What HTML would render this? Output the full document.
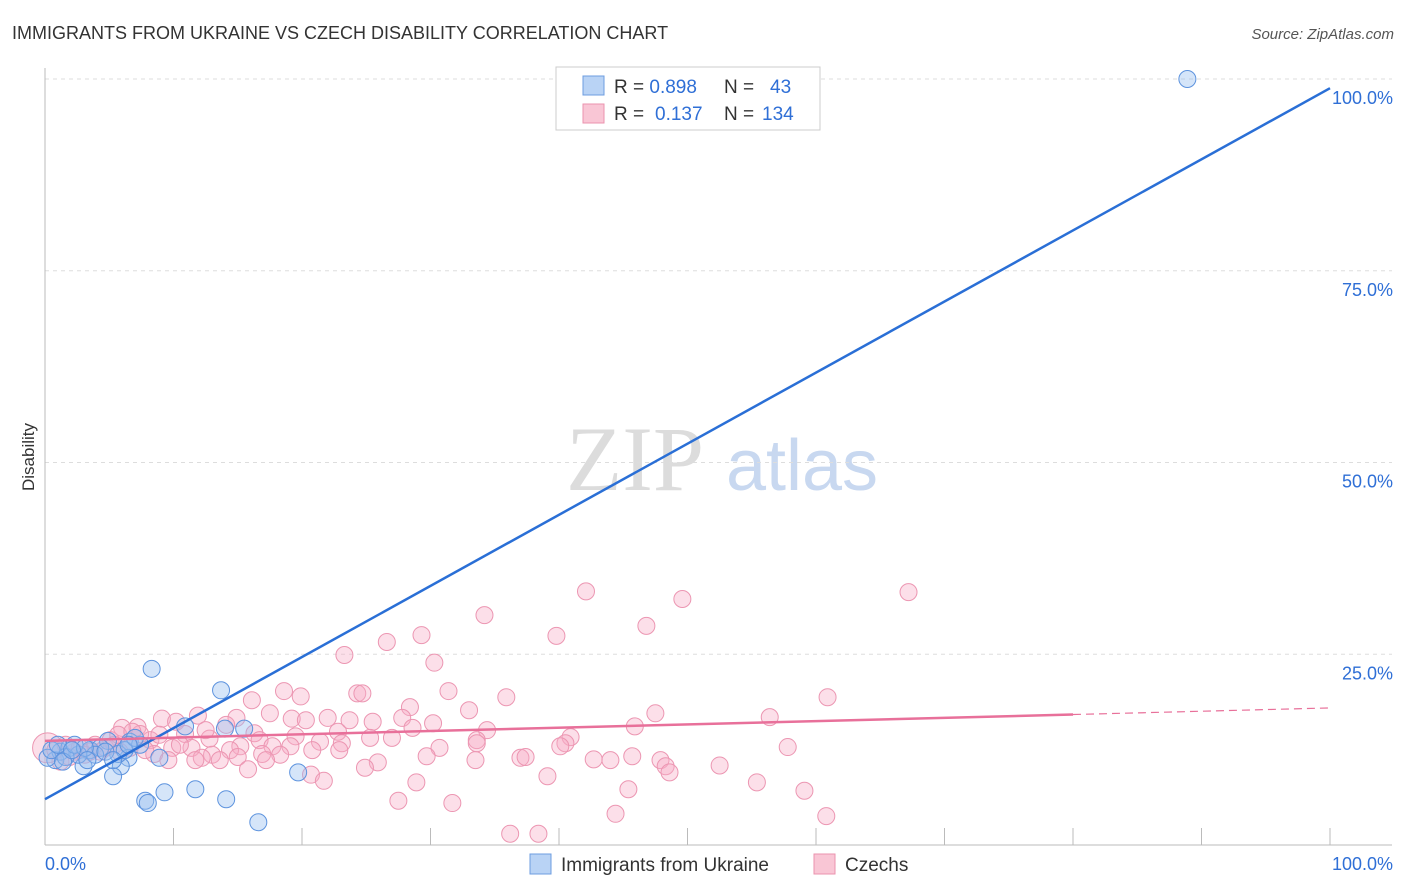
<!DOCTYPE html>
<html><head><meta charset="utf-8"><style>
body{margin:0;background:#fff;font-family:"Liberation Sans",sans-serif}
svg{display:block}
</style></head><body>
<svg id="c" width="1406" height="892">
<text x="12" y="39" font-size="18" fill="#333">IMMIGRANTS FROM UKRAINE VS CZECH DISABILITY CORRELATION CHART</text>
<text x="1394" y="39" font-size="15" fill="#555" font-style="italic" text-anchor="end">Source: ZipAtlas.com</text>
<text x="34" y="457" font-size="17" fill="#333" transform="rotate(-90 34 457)" text-anchor="middle">Disability</text>
<g>
<text x="635" y="490" font-size="92" fill="#dcdcdc" font-family="Liberation Serif,serif" text-anchor="middle">ZIP</text>
<text x="802" y="490" font-size="72" fill="#c8d8f0" text-anchor="middle">atlas</text>
</g>
<g id="grid"></g><g id="marks"></g>
<g>
<rect x="556" y="67" width="264" height="63" fill="#fff" stroke="#ccc"/>
<rect x="583" y="76" width="21" height="19" fill="#b9d3f5" stroke="#6d9de0"/>
<rect x="583" y="104" width="21" height="19" fill="#f9c6d5" stroke="#eb93ae"/>
<text x="614" y="93" font-size="19" fill="#333">R = <tspan fill="#2f6fd6">0.898</tspan><tspan x="724">N = </tspan><tspan x="770" fill="#2f6fd6">43</tspan></text>
<text x="614" y="120" font-size="19" fill="#333">R = <tspan fill="#2f6fd6" x="655">0.137</tspan><tspan x="724">N = </tspan><tspan x="762" fill="#2f6fd6">134</tspan></text>
</g>
<g>
<rect x="530" y="854" width="21" height="20" fill="#b9d3f5" stroke="#6d9de0"/>
<text x="561" y="871" font-size="19" fill="#333">Immigrants from Ukraine</text>
<rect x="814" y="854" width="21" height="20" fill="#f9c6d5" stroke="#eb93ae"/>
<text x="845" y="871" font-size="19" fill="#333">Czechs</text>
</g>
</svg>
<script>
const yTicks=[25,50,75,100];
const yTickLabels=["25.0%","50.0%","75.0%","100.0%"];
const xTickLabels=["0.0%","100.0%"];
const ukraineX=[88.9,8.3,13.7,10.9,15.5,14.0,6.6,4.9,8.9,6.5,5.9,5.3,3.0,0.8,1.2,1.9,3.5,4.3,2.6,0.2,1.6,3.9,5.7,6.2,7.4,7.0,19.7,9.3,7.8,8.0,11.7,14.1,16.6,0.5,1.0,2.3,3.1,4.7,5.3,3.3,1.4,2.1,6.5];
const ukraineY=[100,23.1,20.3,15.6,15.3,15.3,13.6,13.7,11.5,11.5,10.4,9.1,10.4,11.2,12.3,12.8,12.5,12.8,11.9,11.5,11.6,11.9,12.0,12.5,13.2,14.1,9.6,7.0,5.9,5.6,7.4,6.1,3.1,12.5,13.2,13.2,12.8,12.3,11.2,11.2,11.0,12.5,13.2];
const czechX=[42.1,67.2,49.6,34.2,46.8,39.8,29.3,26.6,23.3,30.3,31.4,24.3,24.7,19.9,18.6,35.9,60.9,16.1,28.4,33.0,47.5,17.5,22.0,9.1,11.9,27.8,19.2,20.3,23.7,14.9,56.4,10.2,25.5,30.2,45.9,6.0,7.2,14.1,16.3,28.6,34.4,10.9,22.8,19.5,25.3,27.0,40.9,33.6,5.1,8.2,12.8,16.7,21.4,23.1,33.6,40.5,15.2,17.7,19.1,40.1,57.8,6.6,9.9,11.4,14.4,20.8,30.7,2.3,4.3,8.5,13.0,16.9,18.3,29.7,45.7,37.0,37.4,42.7,44.0,33.5,47.9,9.6,12.2,13.6,15.0,17.2,1.2,25.9,52.5,15.8,24.9,48.3,48.6,20.7,39.1,21.7,28.9,55.4,45.4,59.1,27.5,31.7,44.4,60.8,36.2,38.4,0.2,0.8,1.6,2.7,3.5,3.9,4.7,5.4,5.8,3.1,1.9,7.4,7.8,8.9,5.7,6.8,10.5,11.7,12.5,22.9];
const czechY=[33.2,33.1,32.2,30.1,28.7,27.4,27.5,26.6,24.9,23.9,20.2,19.9,19.9,19.5,20.2,19.4,19.4,19.0,18.1,17.7,17.3,17.3,16.7,16.6,17.0,16.7,16.6,16.4,16.4,16.7,16.8,16.2,16.2,16.0,15.6,15.4,15.5,15.8,14.7,15.4,15.1,14.6,14.9,14.3,14.1,14.1,14.2,13.8,13.8,13.8,14.0,13.8,13.6,13.4,13.4,13.4,13.0,13.0,13.0,13.0,12.9,12.8,12.8,12.8,12.5,12.5,12.8,12.3,12.3,12.0,11.9,12.0,11.9,11.7,11.7,11.5,11.6,11.3,11.2,11.2,11.2,11.2,11.5,11.2,11.6,11.2,11.0,10.9,10.5,10.0,10.2,10.4,9.6,9.3,9.1,8.5,8.3,8.3,7.4,7.2,5.9,5.6,4.2,3.9,1.6,1.6,12.8,12.5,13.2,12.8,12.3,13.2,12.8,13.2,12.3,11.9,11.6,14.6,12.5,14.5,14.5,14.9,13.2,11.2,15.1,12.5];
const ukraineTrend=[6.1,98.8];
const czechTrend=[13.7,18.0];
const NS="http://www.w3.org/2000/svg";
const X=v=>45+v*12.85, Y=v=>846-v*7.67;
function mk(t,a,p){const e=document.createElementNS(NS,t);for(const k in a)e.setAttribute(k,a[k]);p.appendChild(e);return e;}
const g=document.getElementById('grid'), m=document.getElementById('marks');
yTicks.forEach((t,i)=>{
 const l=mk('line',{x1:45,x2:1392,y1:Y(t),y2:Y(t),stroke:'#ddd','stroke-dasharray':'4,4'},g);
 
 
 const tx=mk('text',{x:1393,y:Y(t)+25,'font-size':18,fill:'#2f6fd6','text-anchor':'end'},g);tx.textContent=yTickLabels[i];
 
 
});
mk('line',{x1:45,x2:45,y1:68,y2:845,stroke:'#bbb'},g);
mk('line',{x1:45,x2:1392,y1:845,y2:845,stroke:'#bbb'},g);
for(let i=1;i<=10;i++){mk('line',{x1:X(i*10),x2:X(i*10),y1:828,y2:845,stroke:'#bbb'},g);}
[[45,'start'],[1393,'end']].forEach((p,i)=>{const t=mk('text',{x:p[0],y:870,'font-size':18,fill:'#2f6fd6','text-anchor':p[1]},g);t.textContent=xTickLabels[i];
 
 });
czechX.forEach((x,i)=>{const c=mk('circle',{cx:X(x),cy:Y(czechY[i]),r:i==106?15:8.5,fill:'rgba(246,170,196,0.38)',stroke:'#ec96b2','stroke-width':1},m);
 
 });
ukraineX.forEach((x,i)=>{const c=mk('circle',{cx:X(x),cy:Y(ukraineY[i]),r:8.5,fill:'rgba(150,190,240,0.4)',stroke:'#5d93de','stroke-width':1},m);
 
 });
const bl=mk('line',{x1:X(0),y1:Y(ukraineTrend[0]),x2:X(100),y2:Y(ukraineTrend[1]),stroke:'#2a6fd6','stroke-width':2.5},m);


const cm=czechTrend[0]+(czechTrend[1]-czechTrend[0])*0.8;
const pl=mk('line',{x1:X(0),y1:Y(czechTrend[0]),x2:X(80),y2:Y(cm),stroke:'#e8709a','stroke-width':2.5},m);


const pd=mk('line',{x1:X(80),y1:Y(cm),x2:X(100),y2:Y(czechTrend[1]),stroke:'#e8709a','stroke-width':1.2,'stroke-dasharray':'8,5'},m);


</script>
</body></html>
